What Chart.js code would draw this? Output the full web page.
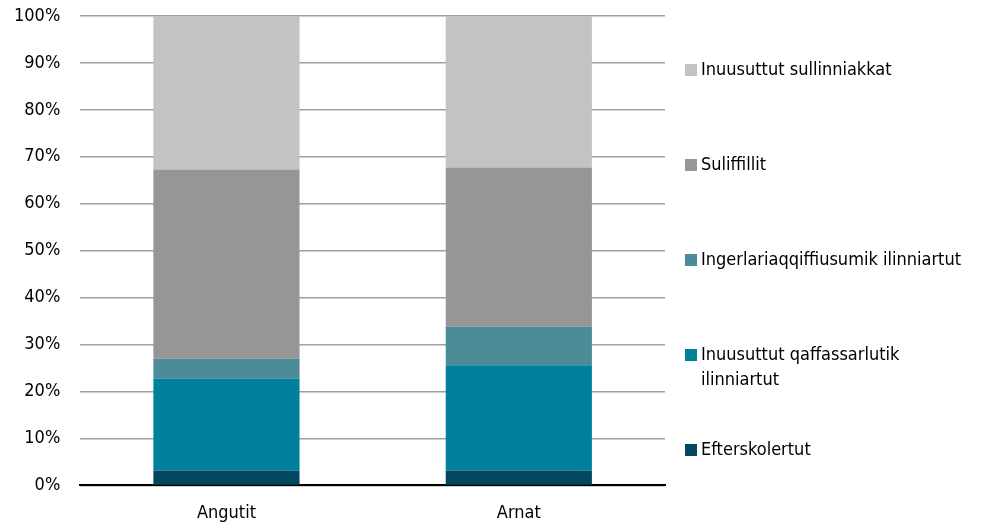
<!DOCTYPE html>
<html>
<head>
<meta charset="utf-8">
<script src="https://cdn.jsdelivr.net/npm/chart.js@4/dist/chart.umd.min.js"></script>
<style>
html,body{margin:0;padding:0;background:#fff;}
#wrap{position:relative;width:981px;height:524px;}
</style>
</head>
<body>
<div id="wrap"><canvas id="c" width="981" height="524"></canvas></div>
<script>
const categories = ["Angutit", "Arnat"];
const seriesNames = ["Efterskolertut", "Inuusuttut qaffassarlutik ilinniartut", "Ingerlariaqqiffiusumik ilinniartut", "Suliffillit", "Inuusuttut sullinniakkat"];
const efterskolertut = [3.2, 3.2];
const qaffassarlutik = [19.5, 22.4];
const ingerlariaqqiffiusumik = [4.3, 8.2];
const suliffillit = [40.3, 33.9];
const sullinniakkat = [32.7, 32.3];
const yTicks = [0, 10, 20, 30, 40, 50, 60, 70, 80, 90, 100];
const colors = ["#00475f", "#00819b", "#4b8c98", "#969696", "#c3c3c3"];
const legendLines = [["Efterskolertut"], ["Inuusuttut qaffassarlutik", "ilinniartut"], ["Ingerlariaqqiffiusumik ilinniartut"], ["Suliffillit"], ["Inuusuttut sullinniakkat"]];

const FONT = '"DejaVu Sans Condensed", "Liberation Sans Narrow", "Open Sans", sans-serif';
const values = [efterskolertut, qaffassarlutik, ingerlariaqqiffiusumik, suliffillit, sullinniakkat];

const legendPlugin = {
  id: 'customLegend',
  afterDraw(chart) {
    const ctx = chart.ctx;
    const ys = [450, 355, 260, 165, 70];
    ctx.save();
    ctx.font = '18px ' + FONT;
    ctx.textBaseline = 'middle';
    chart.data.datasets.forEach((ds, i) => {
      const y = ys[i];
      ctx.fillStyle = ds.backgroundColor;
      ctx.fillRect(685, y - 6, 12, 12);
      ctx.fillStyle = '#000';
      legendLines[i].forEach((line, j) => {
        ctx.fillText(line, 701, y + j * 25);
      });
    });
    ctx.restore();
  }
};

new Chart(document.getElementById('c'), {
  type: 'bar',
  data: {
    labels: categories,
    datasets: seriesNames.map((n, i) => ({
      label: n,
      data: values[i],
      backgroundColor: colors[i],
      borderWidth: 0,
      categoryPercentage: 1.0,
      barPercentage: 0.5
    }))
  },
  options: {
    responsive: false,
    animation: false,
    layout: { padding: { left: 14, right: 316, top: 16, bottom: -17 } },
    plugins: { legend: { display: false }, tooltip: { enabled: false } },
    scales: {
      x: {
        stacked: true,
        grid: { display: false, drawTicks: false },
        border: { color: '#000', width: 2 },
        ticks: { color: '#000', font: { family: FONT, size: 18 }, padding: 17 }
      },
      y: {
        stacked: true,
        min: 0, max: 100,
        afterBuildTicks(scale) { scale.ticks = yTicks.map(v => ({ value: v })); },
        grid: { color: '#a0a0a0', lineWidth: 1.5, drawTicks: true, tickLength: 20, tickColor: 'rgba(0,0,0,0)' },
        border: { display: false },
        ticks: { color: '#000', font: { family: FONT, size: 18 }, padding: 0, callback: v => v + '%' }
      }
    }
  },
  plugins: [legendPlugin]
});
</script>
</body>
</html>
